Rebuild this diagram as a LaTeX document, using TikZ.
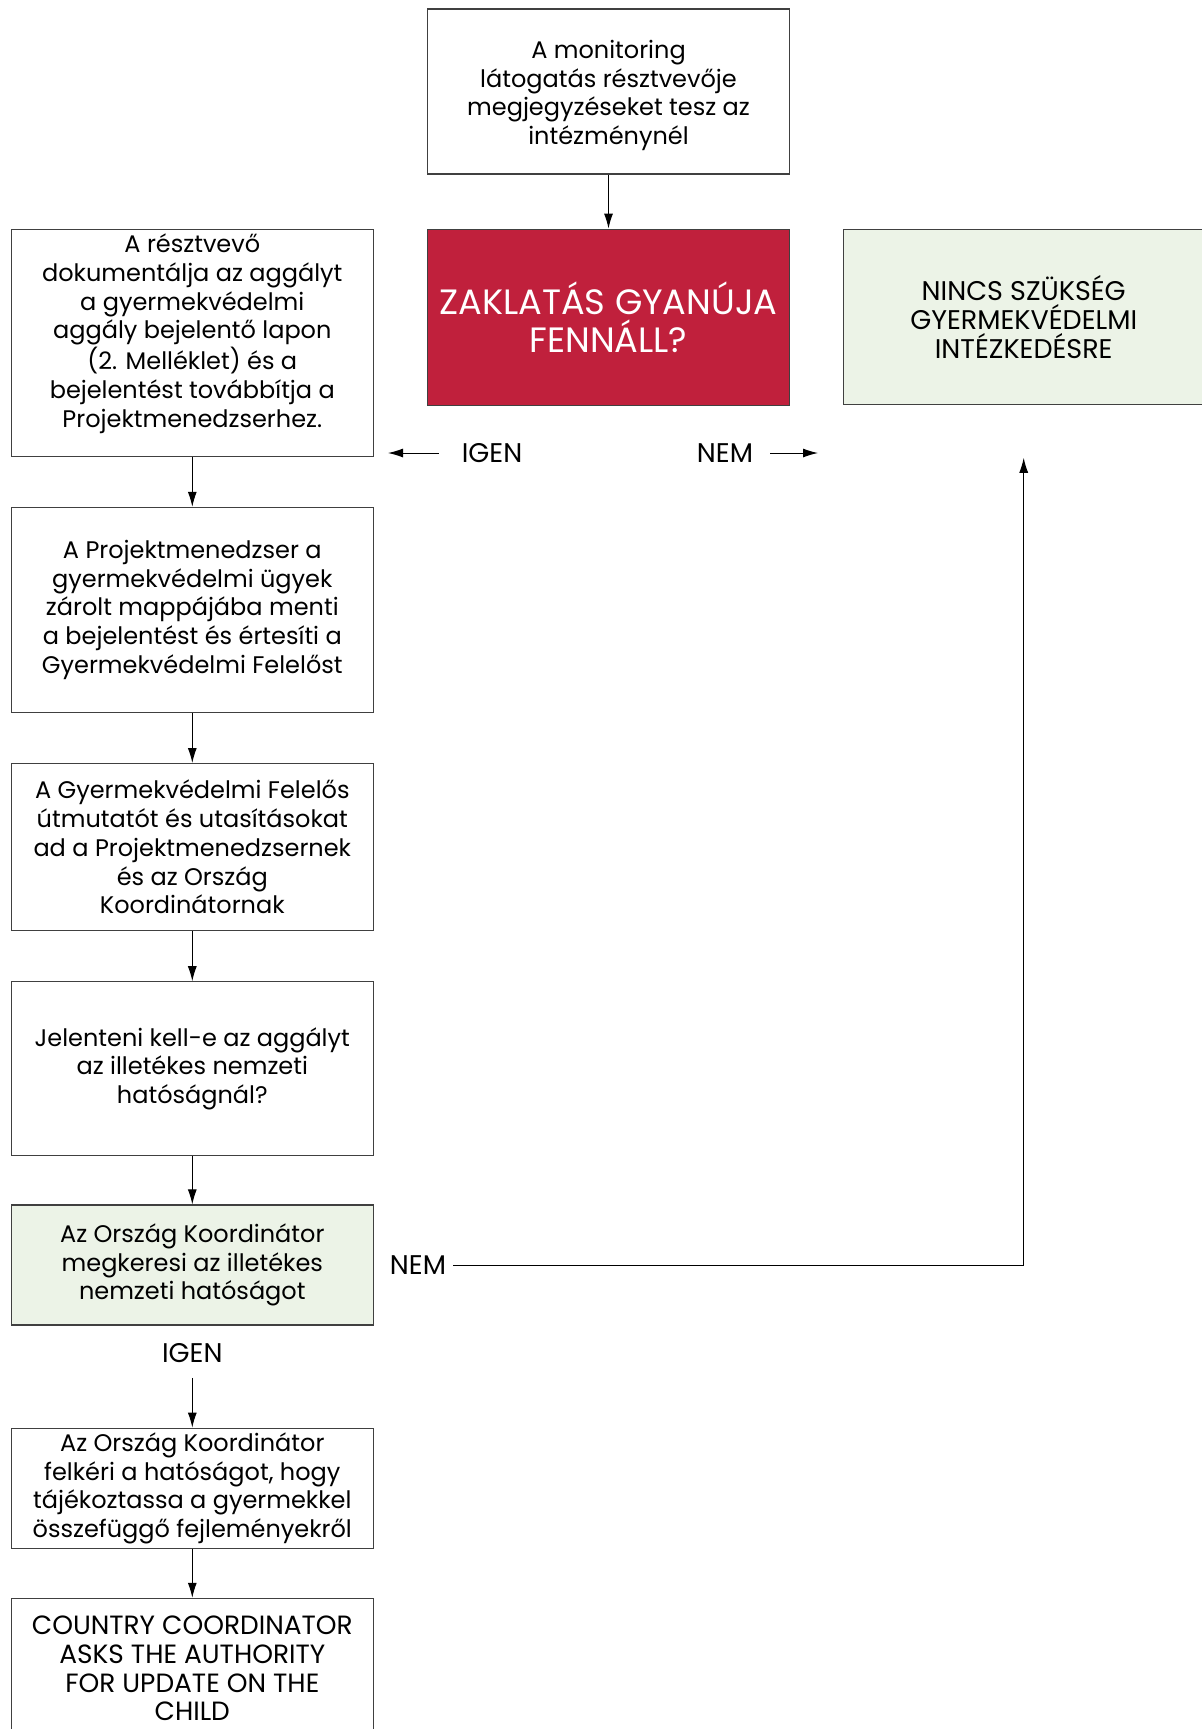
\documentclass[tikz,border=0pt]{standalone}
\usepackage{fontspec}
\setmainfont{Poppins}
\usetikzlibrary{positioning,arrows.meta}
\definecolor{alertred}{HTML}{C0203C}
\definecolor{okgreen}{HTML}{ECF3E7}

\begin{document}
\begin{tikzpicture}[>={Latex[length=7.5pt,width=4.5pt]}, node distance=25pt,
  every node/.style={font=\fontsize{12}{14.35}\selectfont},
  caps/.style={font=\fontsize{13.5}{14.5}\selectfont},
  stepbox/.style={draw=black!75, line width=0.6pt, align=center,
                  minimum width=181pt, inner sep=2pt},
  flow/.style={->, draw=black, line width=0.5pt}]
  \useasboundingbox (0,0) rectangle (600.5pt,-864.5pt);

  \node (monitor) [stepbox, minimum height=82.5pt] at (304.25pt,-45.75pt)
    {\rule{0pt}{13pt}A monitoring\\látogatás résztvevője\\megjegyzéseket tesz az\\intézménynél};
  \node (suspect) [stepbox, fill=alertred, text=white, minimum height=88pt,
                   font=\fontsize{17.6}{18.8}\selectfont, below=27pt of monitor]
    {ZAKLATÁS GYANÚJA\\FENNÁLL?};
  \node (noaction) [stepbox, caps, fill=okgreen, minimum width=180pt, minimum height=87.5pt,
                    right=26.5pt of suspect.north east, anchor=north west]
    {NINCS SZÜKSÉG\\GYERMEKVÉDELMI\\INTÉZKEDÉSRE};

  % left column
  \node (report) [stepbox, inner sep=0pt, minimum height=113.5pt,
                  left=26.5pt of suspect.north west, anchor=north east]
    {A résztvevő\\dokumentálja az aggályt\\a gyermekvédelmi\\aggály bejelentő lapon\\(2. Melléklet) és a\\bejelentést továbbítja a\\Projektmenedzserhez.\rule[-12pt]{0pt}{0pt}};
  \node (save) [stepbox, minimum height=102.5pt, below=of report]
    {A Projektmenedzser a\\gyermekvédelmi ügyek\\zárolt mappájába menti\\a bejelentést és értesíti a\\Gyermekvédelmi Felelőst};
  \node (guide) [stepbox, minimum height=83.5pt, below=of save]
    {A Gyermekvédelmi Felelős\\útmutatót és utasításokat\\ad a Projektmenedzsernek\\és az Ország\\Koordinátornak};
  \node (ask) [stepbox, minimum height=87pt, below=of guide]
    {Jelenteni kell-e az aggályt\\az illetékes nemzeti\\hatóságnál?};
  \node (contact) [stepbox, fill=okgreen, minimum height=60pt, below=24pt of ask]
    {Az Ország Koordinátor\\megkeresi az illetékes\\nemzeti hatóságot};
  \node (request) [stepbox, minimum height=60pt, below=51pt of contact]
    {Az Ország Koordinátor\\felkéri a hatóságot, hogy\\tájékoztassa a gyermekkel\\összefüggő fejleményekről};
  \node (update) [stepbox, caps, font=\fontsize{13.2}{14.4}\selectfont, minimum height=70pt,
                  below=24.5pt of request]
    {COUNTRY COORDINATOR\\ASKS THE AUTHORITY\\FOR UPDATE ON THE\\CHILD};

  % decision labels
  \node (yes1) [caps] at (246pt,-226.5pt) {IGEN};
  \node (no1) [caps] at (362.5pt,-226.5pt) {NEM};
  \node (no2) [caps, right=4.5pt of contact] {NEM};
  \node (yes2) [caps, below=5.5pt of contact] {IGEN};
  \coordinate (yes1tip) at (194pt,-226.5pt);
  \coordinate (no1tip) at (409pt,-226.5pt);
  \coordinate (backtip) at ([yshift=-26.5pt]noaction.south);

  \draw[flow] (monitor) -- (suspect);
  \draw[flow, shorten <=8pt] (yes1) -- (yes1tip);
  \draw[flow, shorten <=5pt] (no1) -- (no1tip);
  \draw[flow] (report) -- (save);
  \draw[flow] (save) -- (guide);
  \draw[flow] (guide) -- (ask);
  \draw[flow] (ask) -- (contact);
  \draw[flow, shorten <=4pt] (yes2) -- (request);
  \draw[flow] (request) -- (update);
  \draw[flow] (no2) -| (backtip);
\end{tikzpicture}
\end{document}
